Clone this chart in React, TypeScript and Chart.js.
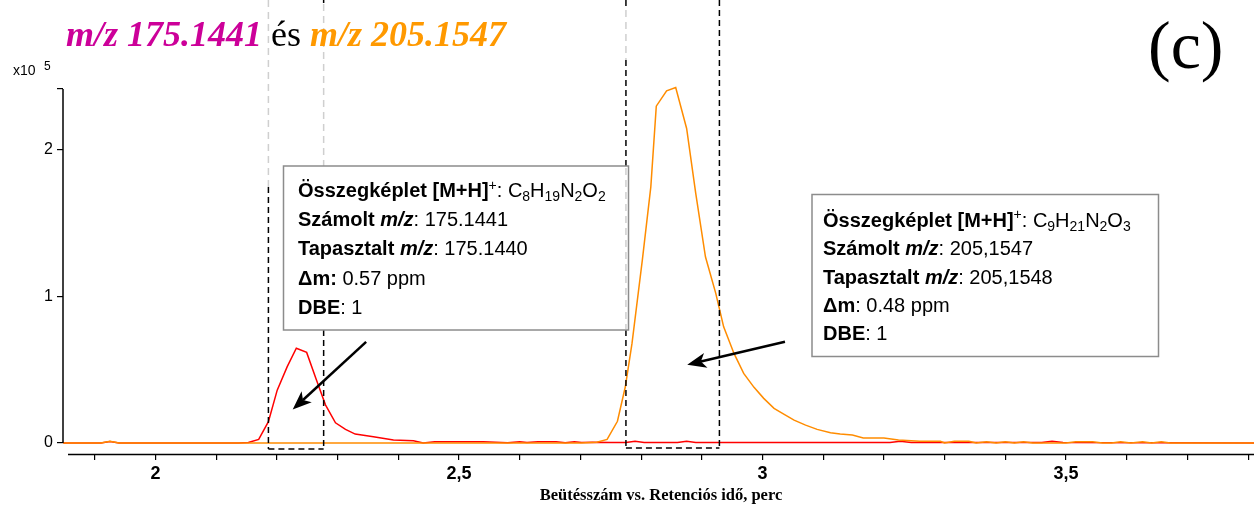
import { useEffect, useRef } from "react";
import { Chart, registerables } from "chart.js";

Chart.register(...registerables);

// Extracted ion chromatogram of m/z 205.1547 — retention time (min) and counts (x10^5)
const timeMz205 = [
  1.848, 1.91, 1.925, 1.94, 2.7, 2.727, 2.744, 2.761, 2.774, 2.785, 2.802, 2.816, 2.825, 2.842, 2.857,
  2.875, 2.89, 2.906, 2.923, 2.936, 2.953, 2.969, 2.986, 3.002, 3.019, 3.035, 3.052, 3.071, 3.09, 3.112,
  3.128, 3.148, 3.166, 3.2, 3.224, 3.259, 3.293, 3.3, 3.316, 3.34, 3.352, 3.369, 3.385, 3.4, 3.415, 3.43,
  3.445, 3.465, 3.5, 3.516, 3.544, 3.56, 3.575, 3.59, 3.607, 3.626, 3.641, 3.657, 3.672, 3.81,
];
const countsMz205 = [
  0, 0, 0.012, 0, 0, 0.005, 0.025, 0.148, 0.383, 0.678, 1.245, 1.744, 2.293, 2.397, 2.42,
  2.141, 1.699, 1.268, 1.019, 0.791, 0.61, 0.474, 0.379, 0.304, 0.236, 0.197, 0.156, 0.122, 0.093, 0.07,
  0.061, 0.054, 0.035, 0.035, 0.021, 0.012, 0.012, 0, 0.012, 0.012, 0, 0.008, 0, 0.008, 0, 0.008,
  0, 0, 0, 0.008, 0.008, 0, 0, 0.008, 0, 0.008, 0, 0.008, 0, 0,
];

// Extracted ion chromatogram of m/z 175.1441
const timeMz175 = [
  1.848, 1.91, 1.925, 1.94, 2.137, 2.153, 2.17, 2.186, 2.2005, 2.217, 2.232, 2.249, 2.265, 2.28, 2.2965,
  2.313, 2.329, 2.359, 2.392, 2.425, 2.441, 2.46, 2.5, 2.54, 2.58, 2.6, 2.612, 2.63, 2.66, 2.675, 2.69,
  2.702, 2.72, 2.75, 2.775, 2.79, 2.805, 2.86, 2.875, 2.89, 3.21, 3.227, 3.245, 3.46, 3.477, 3.495, 3.81,
];
const countsMz175 = [
  0, 0, 0.01, 0, 0, 0.003, 0.025, 0.145, 0.36, 0.52, 0.645, 0.617, 0.43, 0.26, 0.138,
  0.093, 0.061, 0.043, 0.02, 0.016, 0, 0.008, 0.008, 0.008, 0.002, 0.008, 0.003, 0.008, 0.008, 0.002, 0.008,
  0.003, 0.006, 0.004, 0.003, 0.012, 0.003, 0.003, 0.012, 0.003, 0.003, 0.012, 0.003, 0.003, 0.012, 0.003, 0,
];

// Axis ticks
const xTickValues = [1.9, 2.0, 2.1, 2.2, 2.3, 2.4, 2.5, 2.6, 2.7, 2.8, 2.9, 3.0, 3.1, 3.2, 3.3, 3.4, 3.5, 3.6, 3.7, 3.8];
const xTickLabels = ["", "2", "", "", "", "", "2,5", "", "", "", "", "3", "", "", "", "", "3,5", "", "", ""];
const yTickValues = [0, 1, 2, 2.41];
const yTickLabels = ["0", "1", "2", ""];

// Integration windows (min)
const windowMz175 = [2.186, 2.277];
const windowMz205 = [2.775, 2.929];

const X_MIN = 1.8476;
const X_MAX = 3.8097;
const Y_MIN = -0.0747;
const Y_MAX = 2.41;

const COLOR_MZ175 = "#ff0000";
const COLOR_MZ205 = "#ff8c00";
const TITLE_MAGENTA = "#cc0099";
const TITLE_ORANGE = "#ff9900";

type Seg = { t: string; b?: boolean; i?: boolean; sup?: boolean; sub?: boolean };

const infoMz175: Seg[][] = [
  [{ t: "Összegképlet [M+H]", b: true }, { t: "+", sup: true }, { t: ": C" }, { t: "8", sub: true }, { t: "H" }, { t: "19", sub: true }, { t: "N" }, { t: "2", sub: true }, { t: "O" }, { t: "2", sub: true }],
  [{ t: "Számolt ", b: true }, { t: "m/z", b: true, i: true }, { t: ": 175.1441" }],
  [{ t: "Tapasztalt ", b: true }, { t: "m/z", b: true, i: true }, { t: ": 175.1440" }],
  [{ t: "Δm:", b: true }, { t: " 0.57 ppm" }],
  [{ t: "DBE", b: true }, { t: ": 1" }],
];

const infoMz205: Seg[][] = [
  [{ t: "Összegképlet [M+H]", b: true }, { t: "+", sup: true }, { t: ": C" }, { t: "9", sub: true }, { t: "H" }, { t: "21", sub: true }, { t: "N" }, { t: "2", sub: true }, { t: "O" }, { t: "3", sub: true }],
  [{ t: "Számolt ", b: true }, { t: "m/z", b: true, i: true }, { t: ": 205,1547" }],
  [{ t: "Tapasztalt ", b: true }, { t: "m/z", b: true, i: true }, { t: ": 205,1548" }],
  [{ t: "Δm", b: true }, { t: ": 0.48 ppm" }],
  [{ t: "DBE", b: true }, { t: ": 1" }],
];

const SANS = '"Liberation Sans", Arial, sans-serif';
const SERIF = '"Liberation Serif", "Times New Roman", serif';

function drawRich(ctx: CanvasRenderingContext2D, x: number, y: number, segs: Seg[], size: number) {
  let cx = x;
  for (const s of segs) {
    const small = s.sup || s.sub;
    const sz = small ? Math.round(size * 0.68) : size;
    ctx.font = `${s.i ? "italic " : ""}${s.b ? "bold " : ""}${sz}px ${SANS}`;
    const dy = s.sup ? -size * 0.36 : s.sub ? size * 0.2 : 0;
    ctx.fillText(s.t, cx, y + dy);
    cx += ctx.measureText(s.t).width;
  }
}

function vDash(ctx: CanvasRenderingContext2D, x: number, y1: number, y2: number, color: string, dash: number[]) {
  ctx.save();
  ctx.strokeStyle = color;
  ctx.lineWidth = 1.5;
  ctx.setLineDash(dash);
  ctx.beginPath();
  ctx.moveTo(x, y1);
  ctx.lineTo(x, y2);
  ctx.stroke();
  ctx.restore();
}

function hDash(ctx: CanvasRenderingContext2D, x1: number, x2: number, y: number) {
  ctx.save();
  ctx.strokeStyle = "#000";
  ctx.lineWidth = 1.5;
  ctx.setLineDash([6, 4]);
  ctx.beginPath();
  ctx.moveTo(x1, y);
  ctx.lineTo(x2, y);
  ctx.stroke();
  ctx.restore();
}

function arrow(ctx: CanvasRenderingContext2D, x1: number, y1: number, x2: number, y2: number) {
  const ang = Math.atan2(y2 - y1, x2 - x1);
  const len = 19;
  const half = 7.5;
  const bx = x2 - Math.cos(ang) * len;
  const by = y2 - Math.sin(ang) * len;
  const nx = x2 - Math.cos(ang) * (len - 5);
  const ny = y2 - Math.sin(ang) * (len - 5);
  ctx.save();
  ctx.strokeStyle = "#000";
  ctx.fillStyle = "#000";
  ctx.lineWidth = 2.5;
  ctx.beginPath();
  ctx.moveTo(x1, y1);
  ctx.lineTo(nx, ny);
  ctx.stroke();
  ctx.beginPath();
  ctx.moveTo(x2, y2);
  ctx.lineTo(bx - Math.sin(ang) * half, by + Math.cos(ang) * half);
  ctx.lineTo(nx, ny);
  ctx.lineTo(bx + Math.sin(ang) * half, by - Math.cos(ang) * half);
  ctx.closePath();
  ctx.fill();
  ctx.restore();
}

function infoBox(ctx: CanvasRenderingContext2D, x: number, y: number, w: number, h: number) {
  ctx.save();
  ctx.fillStyle = "#fff";
  ctx.fillRect(x, y, w, h);
  ctx.strokeStyle = "#8c8c8c";
  ctx.lineWidth = 1.5;
  ctx.strokeRect(x, y, w, h);
  ctx.restore();
}

const overlayPlugin = {
  id: "chromOverlay",
  afterDraw(chart: any) {
    const ctx: CanvasRenderingContext2D = chart.ctx;
    const xs = chart.scales.x;
    const ys = chart.scales.y;
    const area = chart.chartArea;
    const y0 = ys.getPixelForValue(0);

    ctx.save();
    // axis lines
    ctx.strokeStyle = "#000";
    ctx.lineWidth = 1.5;
    ctx.beginPath();
    ctx.moveTo(area.left, ys.getPixelForValue(Y_MAX));
    ctx.lineTo(area.left, y0);
    ctx.stroke();
    ctx.beginPath();
    ctx.moveTo(area.left + 5, area.bottom + 0.5);
    ctx.lineTo(area.right, area.bottom + 0.5);
    ctx.stroke();

    // integration windows
    const a1 = xs.getPixelForValue(windowMz175[0]);
    const a2 = xs.getPixelForValue(windowMz175[1]);
    const b1 = xs.getPixelForValue(windowMz205[0]);
    const b2 = xs.getPixelForValue(windowMz205[1]);
    const black = [6, 4];
    const grey = [7, 5];
    const lightGrey = "#cfcfcf";
    const bot1 = y0 + 6;
    const bot2 = y0 + 5;

    vDash(ctx, a1, 0, 187, lightGrey, grey);
    vDash(ctx, a1, 187, bot1, "#000", black);
    vDash(ctx, a2, 0, 3, "#000", black);
    vDash(ctx, a2, 4, 166, lightGrey, grey);
    vDash(ctx, a2, 330, bot1, "#000", black);
    hDash(ctx, a1, a2, bot1);

    vDash(ctx, b1, 0, 8, "#000", black);
    vDash(ctx, b1, 10, 60, lightGrey, grey);
    vDash(ctx, b1, 60, bot2, "#000", black);
    vDash(ctx, b2, 0, bot2, "#000", black);
    hDash(ctx, b1, b2, bot2);

    // info boxes
    infoBox(ctx, 283.5, 166, 345, 164);
    vDash(ctx, b1, 168, 329, lightGrey, grey);
    infoBox(ctx, 812, 194.5, 346.5, 162);

    ctx.fillStyle = "#000";
    ctx.textBaseline = "alphabetic";
    ctx.textAlign = "left";
    const base1 = [197, 226, 255, 284.5, 314];
    infoMz175.forEach((line, i) => drawRich(ctx, 298, base1[i], line, 20));
    const base2 = [226.5, 255, 283.5, 312, 340];
    infoMz205.forEach((line, i) => drawRich(ctx, 823, base2[i], line, 20));

    // arrows towards the peaks
    arrow(ctx, xs.getPixelForValue(2.347), ys.getPixelForValue(0.689), xs.getPixelForValue(2.226), ys.getPixelForValue(0.228));
    arrow(ctx, xs.getPixelForValue(3.037), ys.getPixelForValue(0.689), xs.getPixelForValue(2.876), ys.getPixelForValue(0.533));

    // heading
    ctx.font = `italic bold 36px ${SERIF}`;
    let tx = 66;
    ctx.fillStyle = TITLE_MAGENTA;
    ctx.fillText("m/z 175.1441", tx, 46);
    tx += ctx.measureText("m/z 175.1441 ").width;
    ctx.font = `36px ${SERIF}`;
    ctx.fillStyle = "#000";
    ctx.fillText("és", tx, 46);
    tx += ctx.measureText("és ").width;
    ctx.font = `italic bold 36px ${SERIF}`;
    ctx.fillStyle = TITLE_ORANGE;
    ctx.fillText("m/z 205.1547", tx, 46);

    ctx.fillStyle = "#000";
    ctx.font = `68px ${SERIF}`;
    ctx.fillText("(c)", 1148, 68);

    // scale factor
    ctx.font = `14px ${SANS}`;
    ctx.fillText("x10", 13, 75);
    ctx.font = `12px ${SANS}`;
    ctx.fillText("5", 44, 70);

    // x axis title
    ctx.font = `bold 16.5px ${SERIF}`;
    ctx.textAlign = "center";
    ctx.fillText("Beütésszám vs. Retenciós idő, perc", 661, 500);
    ctx.restore();
  },
};

export default function App() {
  const canvasRef = useRef<HTMLCanvasElement | null>(null);

  useEffect(() => {
    if (!canvasRef.current) return;
    const chart = new Chart(canvasRef.current, {
      type: "line",
      data: {
        datasets: [
          {
            label: "m/z 205.1547",
            data: timeMz205.map((t, i) => ({ x: t, y: countsMz205[i] })),
            borderColor: COLOR_MZ205,
            borderWidth: 1.5,
            pointRadius: 0,
            tension: 0,
            clip: false as any,
          },
          {
            label: "m/z 175.1441",
            data: timeMz175.map((t, i) => ({ x: t, y: countsMz175[i] })),
            borderColor: COLOR_MZ175,
            borderWidth: 1.5,
            pointRadius: 0,
            tension: 0,
            clip: false as any,
          },
        ],
      },
      options: {
        responsive: false,
        animation: false,
        devicePixelRatio: 1,
        layout: { padding: { top: 89, left: 0, right: 0, bottom: 0 } },
        plugins: { legend: { display: false }, tooltip: { enabled: false }, title: { display: false } },
        scales: {
          x: {
            type: "linear",
            min: X_MIN,
            max: X_MAX,
            afterBuildTicks: (scale: any) => {
              scale.ticks = xTickValues.map((v) => ({ value: v }));
            },
            afterFit: (scale: any) => {
              scale.height = 52;
            },
            border: { display: false },
            grid: { drawOnChartArea: false, drawTicks: true, tickLength: 6, color: "#000", lineWidth: 1.2 },
            ticks: {
              autoSkip: false,
              maxRotation: 0,
              padding: 3,
              color: "#000",
              font: { family: SANS, size: 18, weight: "bold" },
              callback: (_v: any, i: number) => xTickLabels[i],
            },
          },
          y: {
            type: "linear",
            min: Y_MIN,
            max: Y_MAX,
            afterBuildTicks: (scale: any) => {
              scale.ticks = yTickValues.map((v) => ({ value: v }));
            },
            afterFit: (scale: any) => {
              scale.width = 63;
            },
            border: { display: false },
            grid: { drawOnChartArea: false, drawTicks: true, tickLength: 6, color: "#000", lineWidth: 1.2 },
            ticks: {
              autoSkip: false,
              padding: 4,
              color: "#000",
              font: { family: SANS, size: 16 },
              callback: (_v: any, i: number) => yTickLabels[i],
            },
          },
        },
      },
      plugins: [overlayPlugin],
    });
    return () => chart.destroy();
  }, []);

  return (
    <div style={{ position: "absolute", left: 0, top: 0, width: 1254, height: 506, background: "#fff" }}>
      <canvas ref={canvasRef} width={1254} height={506} style={{ display: "block" }} />
    </div>
  );
}
